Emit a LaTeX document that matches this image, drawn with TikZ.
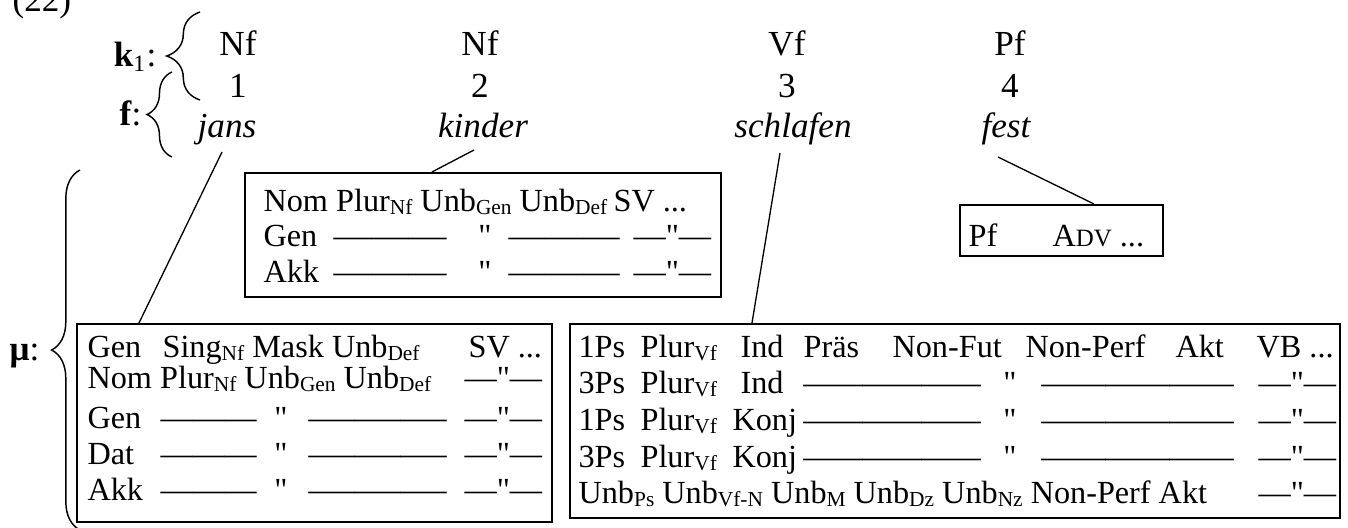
\documentclass[tikz,border=0pt]{standalone}
\usepackage{fontspec}
\setmainfont{Liberation Serif}[Ligatures=TeXOff]
\usepackage{graphicx}
\usetikzlibrary{calc,fit,decorations.pathreplacing}
\newdimen\pxu \pxu=0.012cm
\newcommand{\dashrun}[1]{\resizebox{#1\pxu}{\height}{———}}
\newcommand{\sbs}[1]{\raisebox{-1.2pt}{\fontsize{7.3}{8}\selectfont #1}}

\begin{document}
\begin{tikzpicture}[x=0.012cm,y=-0.012cm,
    hd/.style={anchor=base,inner sep=0pt,font=\fontsize{12}{14}\selectfont},
    wd/.style={hd,font=\fontsize{12}{14}\selectfont\itshape},
    lab/.style={anchor=base east,inner sep=0pt,font=\fontsize{12}{14}\selectfont},
    cell/.style={anchor=base west,inner sep=0pt,font=\fontsize{11}{13}\selectfont},
    qt/.style={cell,anchor=base},
    box/.style={draw,line width=0.7pt,inner sep=0pt},
    lnk/.style={line width=0.45pt},
    brc/.style={line width=0.5pt,decorate,decoration={brace,amplitude=#1}}]
  \useasboundingbox (0,0) rectangle (1348,527);
  \node[anchor=base west,inner sep=0pt,font=\fontsize{12}{14}\selectfont] (ex) at (12,11) {(22)};

  \node[lab] (klab) at (157,66) {\textbf{k}\textsubscript{1}:};
  \node[lab] (flab) at (142,125) {\textbf{f}:};
  \node[lab] (mlab) at (40,360) {\textbf{μ}:};
  \draw[brc=0.4cm] (200,100) -- (200,12);
  \draw[brc=0.3cm] (172,157) -- (172,72);
  \draw[brc=0.34cm] (80,530) -- (80,170);

  \foreach \cat/\num/\wrd/\x/\xw [count=\i] in {Nf/1/jans/238/227, Nf/2/kinder/480/483, Vf/3/schlafen/787/793, Pf/4/fest/1010/1006} {
    \node[hd] (c\i) at (\x,55) {\cat};
    \node[hd] (n\i) at (\x,97) {\num};
    \node[wd] (w\i) at (\xw,137) {\wrd};
  }

  \node[box,fit={(245,173) (721,297)}] (kbox) {};
  \node[box,fit={(960,205) (1163,256)}] (pbox) {};
  \node[box,fit={(77,324) (552,522)}] (jbox) {};
  \node[box,fit={(570,324) (1340,518)}] (vbox) {};

  \draw[lnk] ($(w1.base)+(-5,15)$) -- ($(jbox.north west)+(63,0)$);
  \draw[lnk] ($(w2.base)+(-9,13)$) -- ($(kbox.north west)+(188,0)$);
  \draw[lnk] ($(w3.base)+(-13,16)$) -- ($(vbox.north west)+(183,0)$);
  \draw[lnk] ($(w4.base)+(-8,20)$) -- ($(pbox.north west)+(135,0)$);

  \node[cell] (k0) at (263,211) {Nom Plur\sbs{Nf} Unb\sbs{Gen} Unb\sbs{Def}};
  \node[cell] (k0e) at (613,211) {SV ...};
  \foreach \lab/\y [count=\i] in {Gen/246, Akk/282} {
    \node[cell] (kl\i) at (263,\y) {\lab};
    \node[cell] (kd\i) at (333,\y) {\dashrun{113}};
    \node[qt] (kq\i) at (485,\y) {"};
    \node[cell] (ke\i) at (508,\y) {\dashrun{111}};
    \node[cell] (kr\i) at (633,\y) {—"—};
  }

  \node[cell] (p1) at (968,246) {Pf};
  \node[cell] (p2) at (1052,246) {A{\fontsize{8.5}{10}\selectfont DV} ...};

  \node[cell] (j0) at (87,357) {Gen};
  \node[cell] (j0b) at (162,357) {Sing\sbs{Nf} Mask Unb\sbs{Def}};
  \node[cell] (j0e) at (468,357) {SV ...};
  \node[cell] (j1) at (87,388) {Nom Plur\sbs{Nf} Unb\sbs{Gen} Unb\sbs{Def}};
  \node[cell] (j1e) at (464,388) {—"—};
  \foreach \lab/\y [count=\i] in {Gen/428, Dat/464, Akk/500} {
    \node[cell] (jl\i) at (87,\y) {\lab};
    \node[cell] (jd\i) at (160,\y) {\dashrun{96}};
    \node[qt] (jq\i) at (281,\y) {"};
    \node[cell] (je\i) at (308,\y) {\dashrun{138}};
    \node[cell] (jr\i) at (464,\y) {—"—};
  }

  \foreach \txt/\x [count=\i] in {1Ps/578, Plur\sbs{Vf}/640, Ind/740, Präs/803, Non-Fut/892, Non-Perf/1025, Akt/1175}
    \node[cell] (v0\i) at (\x,357) {\txt};
  \node[cell] (v0e) at (1256,357) {VB ...};
  \foreach \ps/\md/\xm/\y [count=\i] in {3Ps/Ind/740/393, 1Ps/Konj/732/430, 3Ps/Konj/732/467} {
    \node[cell] (vp\i) at (578,\y) {\ps};
    \node[cell] (vn\i) at (640,\y) {Plur\sbs{Vf}};
    \node[cell] (vm\i) at (\xm,\y) {\md};
    \node[cell] (vd\i) at (803,\y) {\dashrun{177}};
    \node[qt] (vq\i) at (1010,\y) {"};
    \node[cell] (ve\i) at (1041,\y) {\dashrun{192}};
    \node[cell] (vr\i) at (1258,\y) {—"—};
  }
  \node[cell] (v5) at (578,503) {Unb\sbs{Ps} Unb\sbs{Vf-N} Unb\sbs{M} Unb\sbs{Dz} Unb\sbs{Nz} Non-Perf Akt};
  \node[cell] (v5e) at (1258,503) {—"—};
\end{tikzpicture}
\end{document}
